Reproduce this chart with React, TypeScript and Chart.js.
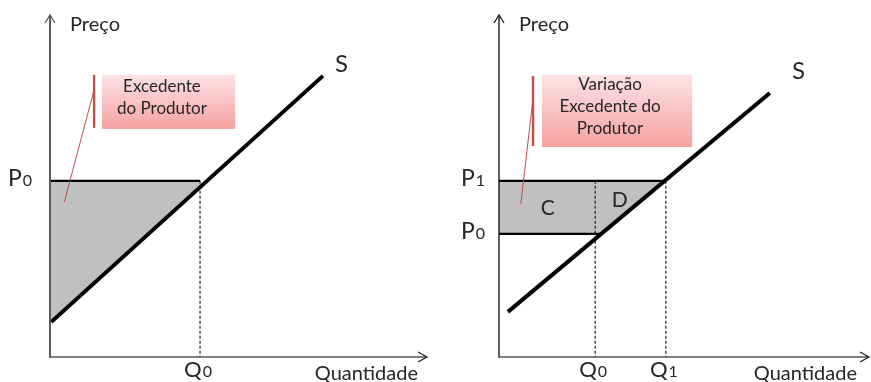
import React, { useEffect, useRef } from "react";
import { Chart, registerables } from "chart.js";

Chart.register(...registerables);

// ---------- Data (axis units 0..10) ----------
// Left panel: producer surplus
const L_SUPPLY_Q = [0.03, 7.24];
const L_SUPPLY_P = [1.02, 8.22];
const L_PRICES = [5.15];
const L_PRICE_LABELS = ["P0"];
const L_PRICE_LINE_END = [3.98];
const L_QTYS = [3.98];
const L_QTY_LABELS = ["Q0"];
const L_QTY_TOP = [5.15];
const L_SURPLUS_Q = [0, 4.0, 3.95, 0];
const L_SURPLUS_P = [5.15, 5.15, 4.93, 1.0];
const L_AREA_LABELS: string[] = [];
const L_AREA_Q: number[] = [];
const L_AREA_P: number[] = [];
const L_BOX_TEXT = ["Excedente", "do Produtor"];

// Right panel: change in producer surplus
const R_SUPPLY_Q = [0.24, 7.32];
const R_SUPPLY_P = [1.32, 7.72];
const R_PRICES = [3.6, 5.15];
const R_PRICE_LABELS = ["P0", "P1"];
const R_PRICE_LINE_END = [2.76, 4.51];
const R_QTYS = [2.6, 4.51];
const R_QTY_LABELS = ["Q0", "Q1"];
const R_QTY_TOP = [5.15, 5.15];
const R_SURPLUS_Q = [0, 4.48, 2.76, 0];
const R_SURPLUS_P = [5.15, 5.15, 3.6, 3.6];
const R_AREA_LABELS = ["C", "D"];
const R_AREA_Q = [1.32, 3.26];
const R_AREA_P = [4.15, 4.39];
const R_BOX_TEXT = ["Variação", "Excedente do", "Produtor"];

const SUPPLY_LABEL = "S";
const Y_TITLE = "Preço";
const X_TITLE = "Quantidade";

const FONT = 'Lato, "Open Sans", "DejaVu Sans", sans-serif';
const TEXT = "#262626";
const RED = "#c0504d";

type Layout = {
  canvasLeft: number;
  canvasWidth: number;
  padding: { left: number; right: number; top: number; bottom: number };
  yAxisColor: string;
  yAxisWidth: number;
  priceLabelGap: number;
  xTitleRightGap: number;
  sLabel: { q: number; p: number };
  box: { q0: number; q1: number; p0: number; p1: number; textQ: number; textP: number };
  bracket: { q: number; p0: number; p1: number };
  leader: { q0: number; p0: number; q1: number; p1: number };
};

type Panel = {
  supplyQ: number[];
  supplyP: number[];
  prices: number[];
  priceLabels: string[];
  priceLineEnd: number[];
  qtys: number[];
  qtyLabels: string[];
  qtyTop: number[];
  surplusQ: number[];
  surplusP: number[];
  areaLabels: string[];
  areaQ: number[];
  areaP: number[];
  boxText: string[];
  layout: Layout;
};

const PANELS: Panel[] = [
  {
    supplyQ: L_SUPPLY_Q,
    supplyP: L_SUPPLY_P,
    prices: L_PRICES,
    priceLabels: L_PRICE_LABELS,
    priceLineEnd: L_PRICE_LINE_END,
    qtys: L_QTYS,
    qtyLabels: L_QTY_LABELS,
    qtyTop: L_QTY_TOP,
    surplusQ: L_SURPLUS_Q,
    surplusP: L_SURPLUS_P,
    areaLabels: L_AREA_LABELS,
    areaQ: L_AREA_Q,
    areaP: L_AREA_P,
    boxText: L_BOX_TEXT,
    layout: {
      canvasLeft: 0,
      canvasWidth: 440,
      padding: { left: 50, right: 13, top: 15, bottom: 25 },
      yAxisColor: "#5a5a5a",
      yAxisWidth: 2,
      priceLabelGap: 18,
      xTitleRightGap: 9,
      sLabel: { q: 7.56, p: 8.33 },
      box: { q0: 1.38, q1: 4.91, p0: 6.67, p1: 8.25, textQ: 2.97, textP: 7.75 },
      bracket: { q: 1.17, p0: 6.7, p1: 8.25 },
      leader: { q0: 1.17, p0: 7.81, q1: 0.38, p1: 4.53 },
    },
  },
  {
    supplyQ: R_SUPPLY_Q,
    supplyP: R_SUPPLY_P,
    prices: R_PRICES,
    priceLabels: R_PRICE_LABELS,
    priceLineEnd: R_PRICE_LINE_END,
    qtys: R_QTYS,
    qtyLabels: R_QTY_LABELS,
    qtyTop: R_QTY_TOP,
    surplusQ: R_SURPLUS_Q,
    surplusP: R_SURPLUS_P,
    areaLabels: R_AREA_LABELS,
    areaQ: R_AREA_Q,
    areaP: R_AREA_P,
    boxText: R_BOX_TEXT,
    layout: {
      canvasLeft: 440,
      canvasWidth: 431,
      padding: { left: 59, right: 2, top: 15, bottom: 25 },
      yAxisColor: "#1a1a1a",
      yAxisWidth: 1.4,
      priceLabelGap: 14,
      xTitleRightGap: 12,
      sLabel: { q: 7.92, p: 8.13 },
      box: { q0: 1.16, q1: 5.22, p0: 6.14, p1: 8.25, textQ: 3.0, textP: 7.81 },
      bracket: { q: 0.92, p0: 6.17, p1: 8.22 },
      leader: { q0: 0.92, p0: 7.57, q1: 0.59, p1: 4.47 },
    },
  },
];

function drawSubLabel(
  ctx: CanvasRenderingContext2D,
  label: string,
  x: number,
  y: number,
  align: "right" | "center",
  mainSize: number,
  subSize: number
) {
  const main = label.slice(0, 1);
  const sub = label.slice(1);
  ctx.font = `${mainSize}px ${FONT}`;
  const wm = ctx.measureText(main).width;
  ctx.font = `${subSize}px ${FONT}`;
  const ws = ctx.measureText(sub).width;
  const total = wm + ws + 1;
  const start = align === "right" ? x - total : x - total / 2;
  ctx.textAlign = "left";
  ctx.textBaseline = "alphabetic";
  ctx.font = `${mainSize}px ${FONT}`;
  ctx.fillText(main, start, y);
  ctx.font = `${subSize}px ${FONT}`;
  ctx.fillText(sub, start + wm + 1, y);
}

function makeDecor(panel: Panel) {
  const L = panel.layout;
  return {
    id: "decor",
    afterDatasetsDraw(chart: any) {
      const ctx: CanvasRenderingContext2D = chart.ctx;
      const xs = chart.scales.x;
      const ys = chart.scales.y;
      const px = (v: number) => xs.getPixelForValue(v);
      const py = (v: number) => ys.getPixelForValue(v);
      const a = chart.chartArea;
      const ox = px(0);
      const oy = py(0);
      ctx.save();

      // Axes
      ctx.lineCap = "butt";
      ctx.strokeStyle = L.yAxisColor;
      ctx.lineWidth = L.yAxisWidth;
      ctx.beginPath();
      ctx.moveTo(ox, oy);
      ctx.lineTo(ox, a.top);
      ctx.stroke();
      ctx.lineWidth = 1.3;
      ctx.beginPath();
      ctx.moveTo(ox - 5, a.top + 8);
      ctx.lineTo(ox, a.top);
      ctx.lineTo(ox + 5, a.top + 8);
      ctx.stroke();

      ctx.strokeStyle = "#555555";
      ctx.lineWidth = 1.6;
      ctx.beginPath();
      ctx.moveTo(ox - 1, oy);
      ctx.lineTo(a.right, oy);
      ctx.stroke();
      ctx.lineWidth = 1.3;
      ctx.strokeStyle = "#222";
      ctx.beginPath();
      ctx.moveTo(a.right - 9, oy - 5);
      ctx.lineTo(a.right, oy);
      ctx.lineTo(a.right - 9, oy + 5);
      ctx.stroke();

      // Axis titles
      ctx.fillStyle = TEXT;
      ctx.font = `20px ${FONT}`;
      ctx.textAlign = "left";
      ctx.textBaseline = "alphabetic";
      ctx.fillText(Y_TITLE, ox + 20, 31);
      ctx.font = `20px ${FONT}`;
      ctx.textAlign = "right";
      ctx.fillText(X_TITLE, a.right - L.xTitleRightGap, 380);

      // Price labels
      panel.prices.forEach((p, i) => {
        drawSubLabel(ctx, panel.priceLabels[i], ox - L.priceLabelGap, py(p) + 5, "right", 23, 16);
      });
      // Quantity labels
      panel.qtys.forEach((q, i) => {
        drawSubLabel(ctx, panel.qtyLabels[i], px(q) - 2, 377, "center", 22, 16);
      });

      // Supply label
      ctx.font = `24px ${FONT}`;
      ctx.textAlign = "left";
      ctx.fillText(SUPPLY_LABEL, px(L.sLabel.q), py(L.sLabel.p));

      // Area labels
      ctx.font = `21px ${FONT}`;
      ctx.textAlign = "center";
      panel.areaLabels.forEach((t, i) => {
        ctx.fillText(t, px(panel.areaQ[i]), py(panel.areaP[i]));
      });

      // Callout box
      const bx0 = px(L.box.q0);
      const bx1 = px(L.box.q1);
      const by0 = py(L.box.p1);
      const by1 = py(L.box.p0);
      const g = ctx.createLinearGradient(0, by0, 0, by1);
      g.addColorStop(0, "#fde3e5");
      g.addColorStop(1, "#f5a1a1");
      ctx.fillStyle = g;
      ctx.fillRect(bx0, by0, bx1 - bx0, by1 - by0);

      ctx.fillStyle = TEXT;
      ctx.font = `17px ${FONT}`;
      ctx.textAlign = "center";
      panel.boxText.forEach((t, i) => {
        ctx.fillText(t, px(L.box.textQ), py(L.box.textP) + i * 22);
      });

      // Bracket and leader
      ctx.strokeStyle = RED;
      ctx.lineWidth = 2.4;
      ctx.beginPath();
      ctx.moveTo(px(L.bracket.q), py(L.bracket.p1));
      ctx.lineTo(px(L.bracket.q), py(L.bracket.p0));
      ctx.stroke();
      ctx.lineWidth = 1;
      ctx.beginPath();
      ctx.moveTo(px(L.leader.q0), py(L.leader.p0));
      ctx.lineTo(px(L.leader.q1), py(L.leader.p1));
      ctx.stroke();

      ctx.restore();
    },
  };
}

function zip(xs: number[], ys: number[]) {
  return xs.map((x, i) => ({ x, y: ys[i] }));
}

function buildDatasets(panel: Panel) {
  const ds: any[] = [];
  ds.push({
    data: zip(panel.surplusQ, panel.surplusP),
    fill: "shape",
    backgroundColor: "#c0c0c0",
    borderWidth: 0,
    borderColor: "rgba(0,0,0,0)",
    pointRadius: 0,
    order: 10,
  });
  panel.qtys.forEach((q, i) => {
    ds.push({
      data: [
        { x: q, y: panel.qtyTop[i] },
        { x: q, y: 0 },
      ],
      borderColor: "#222",
      borderWidth: 1.2,
      borderDash: [3, 2],
      pointRadius: 0,
      fill: false,
      order: 5,
    });
  });
  panel.prices.forEach((p, i) => {
    ds.push({
      data: [
        { x: 0, y: p },
        { x: panel.priceLineEnd[i], y: p },
      ],
      borderColor: "#000",
      borderWidth: 2.2,
      pointRadius: 0,
      fill: false,
      order: 3,
    });
  });
  ds.push({
    data: zip(panel.supplyQ, panel.supplyP),
    borderColor: "#000",
    borderWidth: 4,
    borderCapStyle: "butt",
    pointRadius: 0,
    fill: false,
    order: 1,
  });
  return ds;
}

function PanelChart({ panel }: { panel: Panel }) {
  const ref = useRef<HTMLCanvasElement | null>(null);
  useEffect(() => {
    if (!ref.current) return;
    const L = panel.layout;
    const chart = new Chart(ref.current, {
      type: "line",
      data: { datasets: buildDatasets(panel) },
      options: {
        animation: false,
        responsive: false,
        devicePixelRatio: 1,
        layout: { padding: L.padding },
        plugins: { legend: { display: false }, tooltip: { enabled: false } },
        events: [],
        scales: {
          x: { type: "linear", min: 0, max: 10, display: false },
          y: { type: "linear", min: 0, max: 10, display: false },
        },
      },
      plugins: [makeDecor(panel)],
    } as any);
    return () => chart.destroy();
  }, [panel]);
  const L = panel.layout;
  return (
    <canvas
      ref={ref}
      width={L.canvasWidth}
      height={382}
      style={{ position: "absolute", left: L.canvasLeft, top: 0, width: L.canvasWidth, height: 382 }}
    />
  );
}

export default function App() {
  return (
    <div
      style={{
        position: "absolute",
        left: 0,
        top: 0,
        width: 871,
        height: 382,
        background: "#ffffff",
        overflow: "hidden",
      }}
    >
      {PANELS.map((p, i) => (
        <PanelChart key={i} panel={p} />
      ))}
    </div>
  );
}
